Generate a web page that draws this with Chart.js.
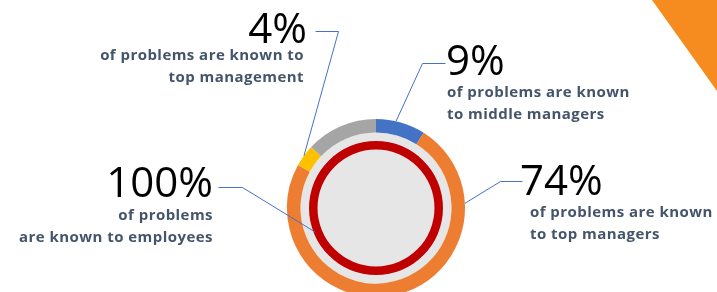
<!DOCTYPE html>
<html>
<head>
<meta charset="utf-8">
<script src="https://cdn.jsdelivr.net/npm/chart.js@4"></script>
<style>
html, body { margin:0; padding:0; width:717px; height:292px; overflow:hidden; background:#fff; }
body { position:relative; }
#c { position:absolute; left:0; top:0; }
.tri { position:absolute; left:652px; top:0; width:65px; height:91px; background:#F68B1F;
       clip-path:polygon(0 0,100% 0,100% 100%); }
.num { position:absolute; font-family:'Open Sans'; font-weight:400; font-size:42px; line-height:42px;
       color:#000; white-space:nowrap; }
.lbl { position:absolute; font-family:'Open Sans'; font-weight:700; font-size:15px; line-height:22px;
       letter-spacing:0.45px; color:#44546A; white-space:nowrap; }
</style>
</head>
<body>
<div class="tri"></div>
<canvas id="c" width="717" height="300"></canvas>
<div id="texts"></div>
<script>
// outer ring: who knows about the problems
const ringLabels = ['middle managers', 'top managers', 'top management', 'unknown'];
const ringValues = [9, 74, 4, 13];
const ringColors = ['#4472C4', '#ED7D31', '#FFC000', '#A5A5A5'];
// inner ring
const innerLabels = ['employees'];
const innerValues = [100];
const innerColors = ['#C00000'];

// callouts: which arc they point to + where the text sits
const callouts = [
  { ds:0, idx:2, angle:null, lines:['of problems are known to', 'top management'],
    align:'right', numX:307, numTop:6, lblX:304, lblTop:43, elbow:[[315,31],[338,31]] },
  { ds:0, idx:0, angle:13, lines:['of problems are known', 'to middle managers'],
    align:'left', numX:446, numTop:38, lblX:447, lblTop:80, elbow:[[445,63],[422,63]] },
  { ds:0, idx:1, angle:87, lines:['of problems are known', 'to top managers'],
    align:'left', numX:520, numTop:158, lblX:530, lblTop:200, elbow:[[522,181],[500,181]] },
  { ds:2, idx:0, angle:248.5, lines:['of problems', 'are known to employees'],
    align:'right', numX:213, numTop:160, lblX:213, lblTop:203, elbow:[[218,187],[242,187]] }
];

const textBox = document.getElementById('texts');
callouts.forEach(c => {
  const vals = c.ds === 0 ? ringValues : innerValues;
  const num = document.createElement('div');
  num.className = 'num';
  num.textContent = vals[c.idx] + '%';
  num.style.top = c.numTop + 'px';
  const lbl = document.createElement('div');
  lbl.className = 'lbl';
  lbl.innerHTML = c.lines.join('<br>');
  lbl.style.top = c.lblTop + 'px';
  if (c.align === 'right') {
    num.style.right = (717 - c.numX) + 'px';
    lbl.style.right = (717 - c.lblX) + 'px';
    lbl.style.textAlign = 'right';
  } else {
    num.style.left = c.numX + 'px';
    lbl.style.left = c.lblX + 'px';
  }
  textBox.appendChild(num);
  textBox.appendChild(lbl);
});

const centerFill = {
  id: 'centerFill',
  beforeDatasetsDraw(chart) {
    const arc = chart.getDatasetMeta(0).data[0];
    const ctx = chart.ctx;
    ctx.save();
    ctx.fillStyle = '#E7E6E6';
    ctx.beginPath();
    ctx.arc(arc.x, arc.y, arc.innerRadius, 0, Math.PI * 2);
    ctx.fill();
    ctx.restore();
  }
};

const leaders = {
  id: 'leaders',
  afterDatasetsDraw(chart) {
    const ctx = chart.ctx;
    ctx.save();
    ctx.strokeStyle = '#4472C4';
    ctx.lineWidth = 1;
    callouts.forEach(c => {
      const arc = chart.getDatasetMeta(c.ds).data[c.idx];
      let a;
      if (c.angle === null) a = (arc.startAngle + arc.endAngle) / 2;
      else a = (c.angle - 90) * Math.PI / 180;
      const r = c.ds === 0 ? arc.outerRadius : arc.outerRadius - 1.5;
      const px = arc.x + r * Math.cos(a);
      const py = arc.y + r * Math.sin(a);
      ctx.beginPath();
      ctx.moveTo(c.elbow[0][0] + 0.5, c.elbow[0][1] + 0.5);
      ctx.lineTo(c.elbow[1][0] + 0.5, c.elbow[1][1] + 0.5);
      ctx.lineTo(px, py);
      ctx.stroke();
    });
    ctx.restore();
  }
};

new Chart(document.getElementById('c'), {
  type: 'doughnut',
  data: {
    labels: ringLabels,
    datasets: [
      { data: ringValues, backgroundColor: ringColors, borderWidth: 0, weight: 13.5 },
      { data: [1], backgroundColor: 'rgba(0,0,0,0)', borderWidth: 0, weight: 8.5 },
      { data: innerValues, backgroundColor: innerColors, borderWidth: 0, weight: 8.5 }
    ]
  },
  options: {
    responsive: false,
    animation: false,
    events: [],
    cutout: '65.7%',
    hoverOffset: 0,
    offset: 0,
    layout: { padding: { left: 287, right: 252, top: 119, bottom: 3 } },
    plugins: { legend: { display: false }, tooltip: { enabled: false } }
  },
  plugins: [centerFill, leaders]
});
</script>
</body>
</html>
